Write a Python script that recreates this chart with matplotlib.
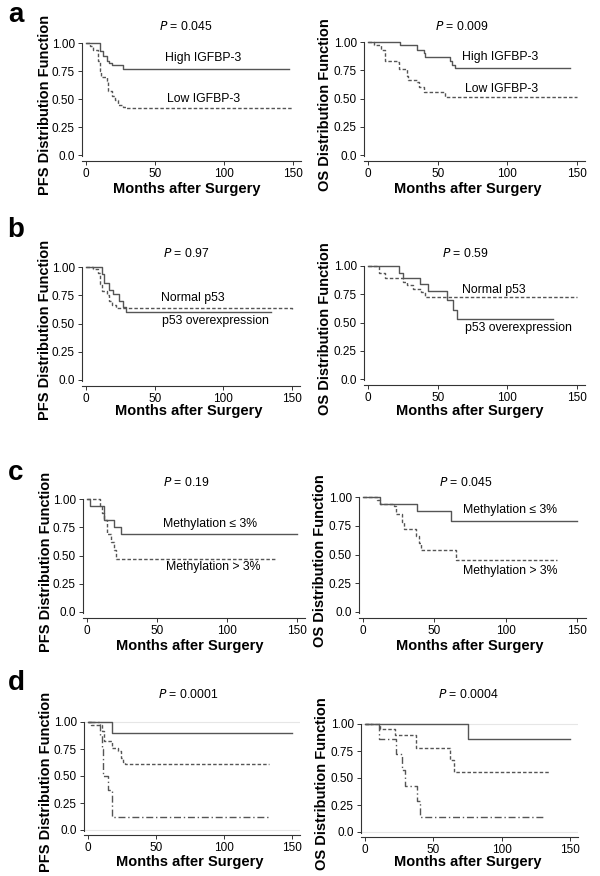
import matplotlib
matplotlib.use("Agg")
import matplotlib.pyplot as plt

plt.rcParams['font.family'] = ['Liberation Sans', 'DejaVu Sans']

# ---- data (months, survival) ----
a_pfs_high_t = [0, 10, 12.5, 15, 17, 19, 27, 147]
a_pfs_high_s = [1.0, 0.93, 0.88, 0.84, 0.82, 0.80, 0.77, 0.77]
a_pfs_low_t = [0, 3, 5, 9, 10, 11, 15, 16, 18.5, 21, 23, 27, 29, 150]
a_pfs_low_s = [1.0, 0.97, 0.94, 0.84, 0.75, 0.70, 0.66, 0.57, 0.53, 0.49, 0.45, 0.43, 0.42, 0.42]

a_os_high_t = [0, 23, 35, 40, 41, 59, 60, 62.5, 145]
a_os_high_s = [1.0, 0.97, 0.93, 0.90, 0.87, 0.83, 0.80, 0.77, 0.77]
a_os_low_t = [0, 4, 9, 12, 21, 22, 28, 29, 35, 36.5, 40, 55, 150]
a_os_low_s = [1.0, 0.97, 0.93, 0.83, 0.82, 0.76, 0.70, 0.66, 0.65, 0.60, 0.56, 0.51, 0.51]

b_pfs_normal_t = [0, 5, 9, 10, 12, 15, 17, 19, 22, 150]
b_pfs_normal_s = [1.0, 0.98, 0.95, 0.85, 0.79, 0.75, 0.70, 0.66, 0.64, 0.63]
b_pfs_over_t = [0, 12, 13, 17, 20, 24, 27, 29, 135]
b_pfs_over_s = [1.0, 0.94, 0.86, 0.80, 0.76, 0.70, 0.65, 0.60, 0.60]

b_os_normal_t = [0, 8, 12, 25, 28, 32, 38, 41, 150]
b_os_normal_s = [1.0, 0.94, 0.89, 0.86, 0.83, 0.80, 0.77, 0.73, 0.73]
b_os_over_t = [0, 22, 25, 37, 43, 57, 61, 64, 133]
b_os_over_s = [1.0, 0.94, 0.89, 0.84, 0.78, 0.70, 0.61, 0.53, 0.53]

c_pfs_low_t = [0, 2, 12, 19, 24, 150]
c_pfs_low_s = [1.0, 0.94, 0.81, 0.75, 0.69, 0.69]
c_pfs_high_t = [0, 9, 11, 12, 14, 17, 19, 21, 136]
c_pfs_high_s = [1.0, 0.94, 0.88, 0.81, 0.69, 0.62, 0.55, 0.47, 0.47]

c_os_low_t = [0, 12, 38, 62, 150]
c_os_low_s = [1.0, 0.94, 0.88, 0.79, 0.79]
c_os_high_t = [0, 10, 12, 22, 23, 27, 29, 37, 39, 41, 65, 136]
c_os_high_s = [1.0, 0.97, 0.94, 0.92, 0.85, 0.78, 0.72, 0.66, 0.60, 0.54, 0.45, 0.45]

d_pfs_1_t = [0, 18, 150]
d_pfs_1_s = [1.0, 0.90, 0.90]
d_pfs_2_t = [0, 2, 10, 12, 18, 22, 24, 26, 27, 133]
d_pfs_2_s = [1.0, 0.97, 0.92, 0.82, 0.76, 0.73, 0.67, 0.63, 0.61, 0.61]
d_pfs_3_t = [0, 9, 10, 11, 15, 18, 132]
d_pfs_3_s = [1.0, 0.88, 0.75, 0.50, 0.37, 0.12, 0.12]

d_os_1_t = [0, 75, 150]
d_os_1_s = [1.0, 0.86, 0.86]
d_os_2_t = [0, 11, 22, 37, 62, 65, 135]
d_os_2_s = [1.0, 0.95, 0.90, 0.78, 0.67, 0.56, 0.56]
d_os_3_t = [0, 10, 23, 27, 29, 38, 40, 131]
d_os_3_s = [1.0, 0.86, 0.72, 0.57, 0.43, 0.29, 0.14, 0.14]

p_values = ['0.045', '0.009', '0.97', '0.59', '0.19', '0.045', '0.0001', '0.0004']
y_labels = ['PFS Distribution Function', 'OS Distribution Function']
x_ticks = [0, 50, 100, 150]
y_ticks = [0.0, 0.25, 0.5, 0.75, 1.0]
y_tick_labels = ['0.0', '0.25', '0.50', '0.75', '1.00']

W, H = 600, 876
fig = plt.figure(figsize=(W / 100, H / 100), dpi=100)
col = '#555555'
solid = dict(color=col, lw=1.0, linestyle='-')
dashed = dict(color=col, lw=1.0, linestyle=(0, (2.5, 1.5)))
dashdot = dict(color=col, lw=1.0, linestyle=(0, (5, 2, 1, 2)))

XMIN, XMAX, YMIN, YMAX = -3, 156, -0.05, 1.02


def make_axes(x0, x150, y1, y0):
    # pixel positions of month 0 / 150 and survival 1 / 0
    sx = (x150 - x0) / 150.0
    sy = (y0 - y1)
    left = x0 + XMIN * sx
    right = x0 + XMAX * sx
    top = y1 - (YMAX - 1) * sy
    bottom = y0 - YMIN * sy
    ax = fig.add_axes([left / W, 1 - bottom / H, (right - left) / W, (bottom - top) / H])
    ax.set_xlim(XMIN, XMAX)
    ax.set_ylim(YMIN, YMAX)
    ax.spines['top'].set_visible(False)
    ax.spines['right'].set_visible(False)
    ax.spines['left'].set_bounds(-0.01, 1.0)
    for s in ['left', 'bottom']:
        ax.spines[s].set_color('#333333')
        ax.spines[s].set_linewidth(0.8)
    ax.set_xticks(x_ticks)
    ax.set_yticks(y_ticks)
    ax.set_yticklabels(y_tick_labels)
    ax.tick_params(labelsize=8.5, length=3, width=0.7, color='#333333', pad=2)
    return ax


def px_text(x, y, s, **kw):
    fig.text(x / W, 1 - y / H, s, **kw)


boxes = [(86, 293, 43, 155), (368, 577, 42, 155),
         (86, 292, 267, 380), (368, 577, 266, 379),
         (87, 297, 499, 612), (363, 577, 497, 612),
         (88, 292, 722, 830), (365, 570, 724, 832)]

curves = [
    [(a_pfs_high_t, a_pfs_high_s, solid), (a_pfs_low_t, a_pfs_low_s, dashed)],
    [(a_os_high_t, a_os_high_s, solid), (a_os_low_t, a_os_low_s, dashed)],
    [(b_pfs_normal_t, b_pfs_normal_s, dashed), (b_pfs_over_t, b_pfs_over_s, solid)],
    [(b_os_normal_t, b_os_normal_s, dashed), (b_os_over_t, b_os_over_s, solid)],
    [(c_pfs_low_t, c_pfs_low_s, solid), (c_pfs_high_t, c_pfs_high_s, dashed)],
    [(c_os_low_t, c_os_low_s, solid), (c_os_high_t, c_os_high_s, dashed)],
    [(d_pfs_1_t, d_pfs_1_s, solid), (d_pfs_2_t, d_pfs_2_s, dashed), (d_pfs_3_t, d_pfs_3_s, dashdot)],
    [(d_os_1_t, d_os_1_s, solid), (d_os_2_t, d_os_2_s, dashed), (d_os_3_t, d_os_3_s, dashdot)],
]

# curve labels: (panel, x month, y survival, text)
curve_labels = [
    (0, 85, 0.87, 'High IGFBP-3'), (0, 85, 0.50, 'Low IGFBP-3'),
    (1, 95, 0.87, 'High IGFBP-3'), (1, 96, 0.58, 'Low IGFBP-3'),
    (2, 78, 0.73, 'Normal p53'), (2, 94, 0.52, 'p53 overexpression'),
    (3, 90, 0.79, 'Normal p53'), (3, 108, 0.45, 'p53 overexpression'),
    (4, 88, 0.78, 'Methylation \u2264 3%'), (4, 90, 0.40, 'Methylation > 3%'),
    (5, 103, 0.89, 'Methylation \u2264 3%'), (5, 103, 0.36, 'Methylation > 3%'),
]

p_y = [27, 27, 253, 253, 483, 483, 695, 695]
p_x = [186, 462, 186, 465, 186, 466, 188, 468]
xlab_y = [189, 189, 411, 411, 646, 646, 862, 862]
xlab_x = [187, 468, 189, 470, 190, 470, 190, 468]
ylab_x = [45, 325, 45, 325, 46, 320, 46, 322]

axes = []
for i, box in enumerate(boxes):
    ax = make_axes(*box)
    axes.append(ax)
    if i >= 6:
        ax.axhline(1.0, color='#e6e6e6', lw=0.8, zorder=0)
        ax.axhline(0.0, color='#e6e6e6', lw=0.8, zorder=0)
    for t, s, style in curves[i]:
        ax.step(t, s, where='post', **style)
    px_text(p_x[i], p_y[i], '$P$ = ' + p_values[i], fontsize=8.8, ha='center', va='center')
    px_text(xlab_x[i], xlab_y[i], 'Months after Surgery', fontsize=10.5, fontweight='bold',
            ha='center', va='center')
    yc = (box[2] + box[3]) / 2 + 6
    px_text(ylab_x[i], yc, y_labels[i % 2], fontsize=10.5, fontweight='bold',
            rotation=90, ha='center', va='center')

for k, x, y, s in curve_labels:
    axes[k].text(x, y, s, fontsize=8.8, ha='center', va='center')

for letter, y in zip(['a', 'b', 'c', 'd'], [15, 230, 473, 683]):
    px_text(16, y, letter, fontsize=20, fontweight='bold', ha='center', va='center')

fig.savefig('out.png', dpi=100)
